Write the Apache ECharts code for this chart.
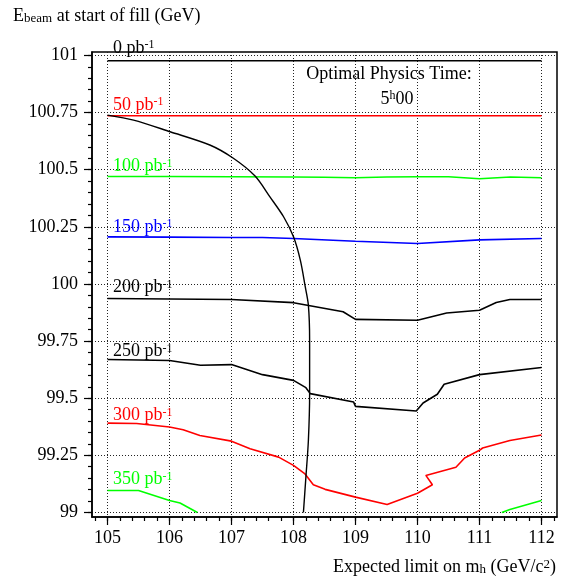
<!DOCTYPE html>
<html>
<head>
<meta charset="utf-8">
<script src="https://cdn.jsdelivr.net/npm/echarts@6/dist/echarts.min.js"></script>
<style>
  html, body { margin: 0; padding: 0; background: #fff; }
  #chart { width: 562px; height: 580px; }
</style>
</head>
<body>
<div id="chart"></div>
<script>
// Beam energy at start of fill versus expected Higgs mass limit,
// one curve per integrated luminosity, plus the optimal-physics-time contour.

const xTicks = [105, 106, 107, 108, 109, 110, 111, 112];
const yTicks = [99, 99.25, 99.5, 99.75, 100, 100.25, 100.5, 100.75, 101];

const lumi0 = [[105, 100.977], [112, 100.977]];
const lumi50 = [[105, 100.736], [112, 100.736]];
const lumi100 = [[105, 100.470], [106, 100.470], [107, 100.469], [108, 100.468], [108.5, 100.467],
  [109, 100.465], [109.5, 100.468], [110, 100.469], [110.5, 100.469], [111, 100.460],
  [111.5, 100.468], [112, 100.465]];
const lumi150 = [[105, 100.206], [106, 100.205], [107, 100.203], [107.5, 100.203], [108, 100.199],
  [109, 100.187], [110, 100.177], [111, 100.193], [112, 100.199]];
const lumi200 = [[105, 99.936], [106, 99.934], [107, 99.932], [108, 99.918], [108.8, 99.878],
  [109, 99.845], [110, 99.841], [110.47, 99.873], [111, 99.885], [111.27, 99.919],
  [111.49, 99.932], [112, 99.932]];
const lumi250 = [[105, 99.669], [106, 99.665], [106.5, 99.644], [107, 99.647], [107.5, 99.603],
  [108, 99.578], [108.2, 99.546], [108.27, 99.520], [108.97, 99.483], [109, 99.464],
  [109.98, 99.444], [110.09, 99.479], [110.32, 99.517], [110.43, 99.561], [111, 99.603],
  [112, 99.634]];
const lumi300 = [[105, 99.391], [105.47, 99.389], [106, 99.374], [106.22, 99.362], [106.49, 99.337],
  [107, 99.312], [107.3, 99.279], [107.76, 99.242], [108, 99.206], [108.18, 99.170],
  [108.32, 99.121], [108.51, 99.101], [109, 99.067], [109.51, 99.035], [110, 99.084],
  [110.24, 99.121], [110.135, 99.162], [110.62, 99.198], [110.76, 99.238], [111, 99.272],
  [111.05, 99.282], [111.49, 99.315], [112, 99.339]];
const lumi350Low = [[105, 99.096], [105.5, 99.096], [106, 99.052], [106.17, 99.041], [106.45, 99.0]];
const lumi350High = [[111.36, 99.0], [111.49, 99.013], [112, 99.052]];
const optimalTime = [[105, 100.739], [105.42, 100.717], [106.01, 100.666], [106.65, 100.608],
  [107.03, 100.550], [107.38, 100.472], [107.62, 100.381], [107.84, 100.294], [108.0, 100.206],
  [108.11, 100.104], [108.19, 99.987], [108.24, 99.907], [108.26, 99.754], [108.26, 99.520],
  [108.24, 99.315], [108.20, 99.155], [108.16, 99.0]];

const lumiLabels = ['0', '50', '100', '150', '200', '250', '300', '350'];

const FONT = 'Liberation Serif';

// minor tick positions (every 0.2 in x, 0.05 in y)
const xMinor = [];
for (let i = 0; i <= 37; i++) xMinor.push(Math.round((104.8 + i * 0.2) * 100) / 100);
const yMinor = [];
for (let i = 0; i <= 40; i++) yMinor.push(Math.round((99 + i * 0.05) * 100) / 100);

const supRich = {
  m: { fontFamily: FONT, fontSize: 18, lineHeight: 18 },
  s: { fontFamily: FONT, fontSize: 12, lineHeight: 12, verticalAlign: 'top' }
};

function lumiSeries(data, name, color, dy, withLabel) {
  const rich = {
    m: Object.assign({}, supRich.m, { color }),
    s: Object.assign({}, supRich.s, { color })
  };
  return {
    type: 'line',
    name: name + ' pb-1',
    data: data.map((p, i) => (i === 0 && withLabel) ? {
      value: p,
      symbol: 'circle',
      symbolSize: 1,
      itemStyle: { color: 'rgba(0,0,0,0)' },
      label: {
        show: true,
        position: [6, dy],
        align: 'left',
        verticalAlign: 'middle',
        formatter: '{m|' + name + ' pb}{s|-1}',
        rich
      }
    } : p),
    symbol: 'none',
    showSymbol: true,
    silent: true,
    lineStyle: { color, width: 1.6 },
    z: 3
  };
}

const chart = echarts.init(document.getElementById('chart'), null, { renderer: 'canvas' });

const option = {
  animation: false,
  backgroundColor: '#fff',
  grid: {
    left: 92, top: 52, width: 465, height: 465,
    show: true, borderColor: '#000', borderWidth: 1.5, backgroundColor: 'transparent'
  },
  xAxis: [{
    type: 'value', min: 104.75, max: 112.25, position: 'bottom',
    axisLine: { show: true, onZero: false, lineStyle: { color: '#000', width: 1.5 } },
    axisTick: { show: true, customValues: xTicks, length: 8, lineStyle: { color: '#000', width: 1.2 } },
    axisLabel: { customValues: xTicks, margin: 12, fontFamily: FONT, fontSize: 18, color: '#000' },
    splitLine: { show: true, lineStyle: { type: [1, 2], color: '#222', width: 1 } }
  }, {
    type: 'value', min: 104.75, max: 112.25, position: 'bottom',
    axisLine: { show: false, onZero: false },
    axisTick: { show: true, customValues: xMinor, length: 4, lineStyle: { color: '#000', width: 1.2 } },
    axisLabel: { show: false },
    splitLine: { show: false }
  }],
  yAxis: [{
    type: 'value', min: 98.98, max: 101.015, position: 'left',
    axisLine: { show: true, onZero: false, lineStyle: { color: '#000', width: 1.5 } },
    axisTick: { show: true, customValues: yTicks, length: 8, lineStyle: { color: '#000', width: 1.2 } },
    axisLabel: { customValues: yTicks, margin: 14, fontFamily: FONT, fontSize: 18, color: '#000' },
    splitLine: { show: true, lineStyle: { type: [1, 2], color: '#222', width: 1 } }
  }, {
    type: 'value', min: 98.98, max: 101.015, position: 'left',
    axisLine: { show: false, onZero: false },
    axisTick: { show: true, customValues: yMinor, length: 4, lineStyle: { color: '#000', width: 1.2 } },
    axisLabel: { show: false },
    splitLine: { show: false }
  }],
  series: [
    lumiSeries(lumi0, lumiLabels[0], '#000000', -12, true),
    lumiSeries(lumi50, lumiLabels[1], '#ff0000', -10, true),
    lumiSeries(lumi100, lumiLabels[2], '#00ff00', -9.5, true),
    lumiSeries(lumi150, lumiLabels[3], '#0000ff', -9.5, true),
    lumiSeries(lumi200, lumiLabels[4], '#000000', -10.3, true),
    lumiSeries(lumi250, lumiLabels[5], '#000000', -7.3, true),
    lumiSeries(lumi300, lumiLabels[6], '#ff0000', -7.2, true),
    lumiSeries(lumi350Low, lumiLabels[7], '#00ff00', -10.3, true),
    lumiSeries(lumi350High, lumiLabels[7], '#00ff00', 0, false),
    {
      type: 'line', name: 'optimal time', data: optimalTime,
      symbol: 'none', silent: true, smooth: 0.3,
      lineStyle: { color: '#000', width: 1.4 }, z: 4
    }
  ],
  graphic: [
    {
      type: 'text', left: 13, top: 7,
      style: {
        text: '{m|E}{b|beam}{m| at start of fill (GeV)}',
        rich: {
          m: { fontFamily: FONT, fontSize: 18, lineHeight: 18, fill: '#000' },
          b: { fontFamily: FONT, fontSize: 13, lineHeight: 4, verticalAlign: 'bottom', fill: '#000' }
        }
      }
    },
    {
      type: 'text', right: 6, top: 558,
      style: {
        text: '{m|Expected limit on m}{b|h}{m| (GeV/c}{s|2}{m|)}',
        rich: {
          m: { fontFamily: FONT, fontSize: 18, lineHeight: 18, fill: '#000' },
          b: { fontFamily: FONT, fontSize: 13, lineHeight: 6, verticalAlign: 'bottom', fill: '#000' },
          s: { fontFamily: FONT, fontSize: 13, lineHeight: 11, verticalAlign: 'top', fill: '#000' }
        }
      }
    },
    {
      type: 'text', x: 389, y: 74,
      style: {
        text: 'Optimal Physics Time:',
        font: '18px "Liberation Serif"', fill: '#000',
        textAlign: 'center', textVerticalAlign: 'middle', align: 'center', verticalAlign: 'middle'
      }
    },
    {
      type: 'text', x: 397, y: 99,
      style: {
        text: '{m|5}{s|h}{m|00}',
        textAlign: 'center', textVerticalAlign: 'middle', align: 'center', verticalAlign: 'middle',
        rich: {
          m: { fontFamily: FONT, fontSize: 18, lineHeight: 18, fill: '#000' },
          s: { fontFamily: FONT, fontSize: 12, lineHeight: 10, verticalAlign: 'top', fill: '#000' }
        }
      }
    }
  ]
};

chart.setOption(option);
</script>
</body>
</html>
